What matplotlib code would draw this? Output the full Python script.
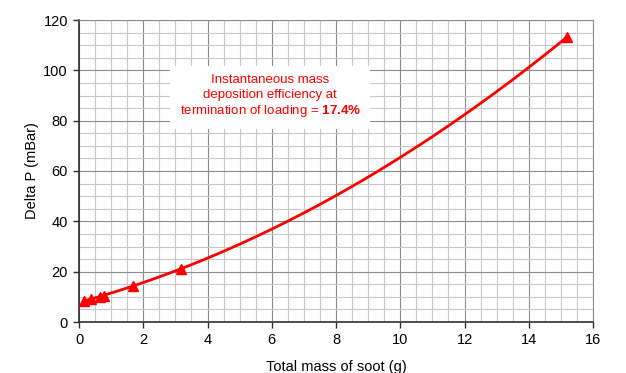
import matplotlib
matplotlib.use("Agg")
import matplotlib.pyplot as plt
import numpy as np
from matplotlib.ticker import MultipleLocator

plt.rcParams["font.family"] = ["Liberation Sans", "DejaVu Sans"]
plt.rcParams["mathtext.fontset"] = "custom"
plt.rcParams["mathtext.rm"] = "Liberation Sans"
plt.rcParams["mathtext.bf"] = "Liberation Sans:bold"

# measured points
soot_mass = [0.17, 0.37, 0.65, 0.78, 1.67, 3.18, 15.18]
delta_p = [8.4, 9.3, 10.1, 10.4, 14.3, 21.2, 113.1]

x_ticks = [0, 2, 4, 6, 8, 10, 12, 14, 16]
y_ticks = [0, 20, 40, 60, 80, 100, 120]

fig = plt.figure(figsize=(6.26, 3.73), dpi=100)
ax = fig.add_axes([79 / 626, 1 - 322 / 373, 514 / 626, 302 / 373])

# polynomial trend line through the measurements
coef = np.polyfit(soot_mass, delta_p, 2)
xs = np.linspace(min(soot_mass), max(soot_mass), 200)
ax.plot(xs, np.polyval(coef, xs), color="#ff0000", lw=2.0, zorder=3)
ax.plot(soot_mass, delta_p, ls="none", marker="^", ms=6.5, color="#ff0000", zorder=4)

ax.set_xlim(0, 16)
ax.set_ylim(0, 120)
ax.set_xticks(x_ticks)
ax.set_yticks(y_ticks)
ax.xaxis.set_minor_locator(MultipleLocator(0.5))
ax.yaxis.set_minor_locator(MultipleLocator(5))
ax.grid(which="major", color="#8c8c8c", lw=0.8, zorder=1)
ax.grid(which="minor", color="#c8c8c8", lw=0.8, zorder=0)
ax.set_axisbelow(True)

ax.tick_params(which="major", direction="out", length=4, width=1, color="#303030",
               labelsize=10.5, labelcolor="black", pad=4)
ax.tick_params(which="minor", length=0)
for side in ["top", "right"]:
    ax.spines[side].set_color("#8c8c8c")
for side in ["left", "bottom"]:
    ax.spines[side].set_color("#303030")
    ax.spines[side].set_linewidth(1.2)

ax.set_xlabel("Total mass of soot (g)", fontsize=10.5, labelpad=9)
ax.set_ylabel("Delta P (mBar)", fontsize=10.5, labelpad=3)

ax.text(5.95, 89.5,
        "Instantaneous mass\ndeposition efficiency at\ntermination of loading = $\\bf{17.4\\%}$",
        ha="center", va="center", color="#ff0000", fontsize=9.5, linespacing=1.25,
        bbox=dict(facecolor="white", edgecolor="none", pad=7), zorder=5)

fig.savefig("out.png", dpi=100)
